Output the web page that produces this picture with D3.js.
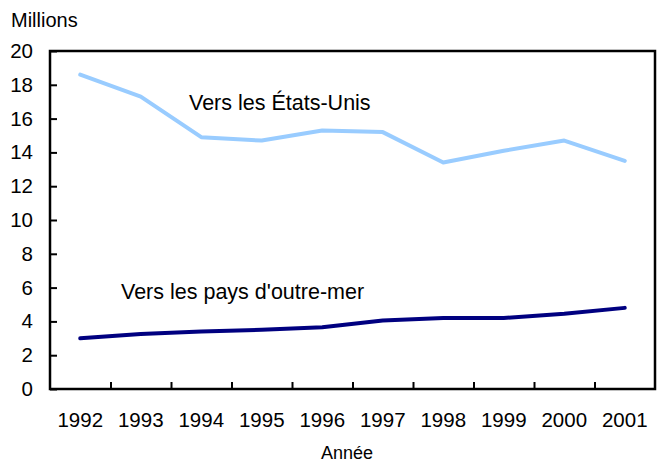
<!DOCTYPE html>
<html>
<head>
<meta charset="utf-8">
<script src="https://cdn.jsdelivr.net/npm/d3@7"></script>
<style>
  body { margin: 0; background: #fff; }
  svg text { font-family: "Liberation Sans", Arial, sans-serif; fill: #000; }
</style>
</head>
<body>
<svg id="chart" width="660" height="471"></svg>
<script>
// DATA
const years = ["1992", "1993", "1994", "1995", "1996", "1997", "1998", "1999", "2000", "2001"];
const usTrips = [18.6, 17.3, 14.9, 14.7, 15.3, 15.2, 13.4, 14.1, 14.7, 13.5];
const overseasTrips = [3.0, 3.25, 3.4, 3.5, 3.65, 4.05, 4.2, 4.2, 4.45, 4.8];
const yTicks = [0, 2, 4, 6, 8, 10, 12, 14, 16, 18, 20];

// CANVAS SETUP
const svg = d3.select("#chart");
const margin = { top: 51, right: 5, bottom: 82, left: 50 },
  width = +svg.attr("width") - margin.left - margin.right,
  height = +svg.attr("height") - margin.top - margin.bottom;

const g = svg.append("g").attr("transform", `translate(${margin.left},${margin.top})`);

const x = d3.scaleBand().domain(years).range([0, width]).padding(0);
const xEdge = d3.scaleLinear().domain([0, years.length]).range([0, width]);
const y = d3.scaleLinear().domain([0, 20]).range([height, 0]);

// y axis, ticks pointing inward
const gy = g.append("g")
  .call(d3.axisLeft(y).tickValues(yTicks).tickSize(-7).tickPadding(17));
gy.select(".domain").remove();
gy.selectAll("line").attr("stroke", "#000").attr("stroke-width", 2);
gy.selectAll("text").style("font-size", "20.5px");

// x axis labels at centres
const gx = g.append("g")
  .attr("transform", `translate(0,${height})`)
  .call(d3.axisBottom(x).tickSize(0).tickPadding(23.5));
gx.select(".domain").remove();
gx.selectAll("text").style("font-size", "20.5px");

// x ticks at category boundaries
const gxt = g.append("g")
  .attr("transform", `translate(0,${height})`)
  .call(d3.axisBottom(xEdge).tickValues(d3.range(1, years.length)).tickSize(-7).tickFormat(""));
gxt.select(".domain").remove();
gxt.selectAll("line").attr("stroke", "#000").attr("stroke-width", 2);

// frame
g.append("rect")
  .attr("x", 0).attr("y", 0)
  .attr("width", width).attr("height", height)
  .attr("fill", "none").attr("stroke", "#000").attr("stroke-width", 2.5);

// lines
const line = d3.line()
  .x((d, i) => x(years[i]) + x.bandwidth() / 2)
  .y((d) => y(d));

g.append("path")
  .datum(usTrips)
  .attr("fill", "none")
  .attr("stroke", "#99ccff")
  .attr("stroke-width", 4)
  .attr("stroke-linejoin", "round")
  .attr("stroke-linecap", "round")
  .attr("d", line);

g.append("path")
  .datum(overseasTrips)
  .attr("fill", "none")
  .attr("stroke", "#000080")
  .attr("stroke-width", 4)
  .attr("stroke-linejoin", "round")
  .attr("stroke-linecap", "round")
  .attr("d", line);

// series labels
g.append("text")
  .attr("x", 139).attr("y", 59)
  .style("font-size", "21.5px")
  .text("Vers les États-Unis");

g.append("text")
  .attr("x", 71).attr("y", 248)
  .style("font-size", "21.5px")
  .text("Vers les pays d'outre-mer");

// unit + axis title
svg.append("text")
  .attr("x", 11).attr("y", 27)
  .style("font-size", "20px")
  .text("Millions");

svg.append("text")
  .attr("x", 347).attr("y", 459)
  .attr("text-anchor", "middle")
  .style("font-size", "18px")
  .text("Année");
</script>
</body>
</html>
